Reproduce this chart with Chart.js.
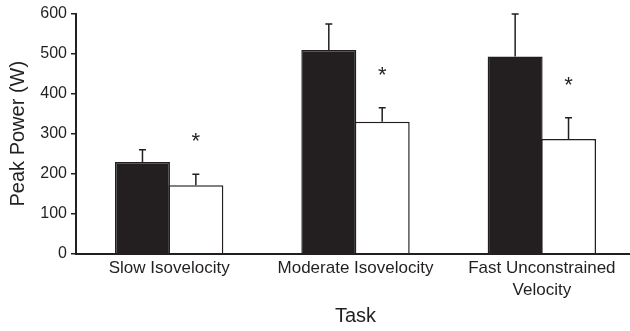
<!DOCTYPE html>
<html>
<head>
<meta charset="utf-8">
<script src="https://cdn.jsdelivr.net/npm/chart.js@4/dist/chart.umd.min.js"></script>
<style>
  html, body { margin: 0; padding: 0; background: #fff; overflow: hidden; }
</style>
</head>
<body>
<canvas id="peakPower" width="635" height="331"></canvas>
<script>
// values
const tasks = ["Slow Isovelocity", "Moderate Isovelocity", ["Fast Unconstrained", "Velocity"]];
const blackMeans = [229, 509, 493];
const blackSD = [31, 65, 106];
const whiteMeans = [171, 330, 287];
const whiteSD = [28, 35, 53];
const significant = [true, true, true];
const yTicks = [0, 100, 200, 300, 400, 500, 600];

const ink = "#231f20";
const font = "'Liberation Sans', Arial, Helvetica, sans-serif";

// error bars (upper only) + asterisks above the white bars
const errorBars = {
  id: "errorBars",
  afterDatasetsDraw(chart) {
    const ctx = chart.ctx;
    const y = chart.scales.y;
    ctx.save();
    ctx.strokeStyle = ink;
    ctx.lineWidth = 1.5;
    chart.data.datasets.forEach((ds, di) => {
      const meta = chart.getDatasetMeta(di);
      meta.data.forEach((bar, i) => {
        const top = y.getPixelForValue(ds.data[i] + ds.sd[i]);
        ctx.beginPath();
        ctx.moveTo(bar.x, bar.y);
        ctx.lineTo(bar.x, top);
        ctx.moveTo(bar.x - 3.5, top);
        ctx.lineTo(bar.x + 3.5, top);
        ctx.stroke();
        if (di === 1 && significant[i]) {
          ctx.fillStyle = ink;
          ctx.font = "22px " + font;
          ctx.textAlign = "center";
          ctx.textBaseline = "middle";
          ctx.fillText("*", bar.x, top - 32);
        }
      });
    });
    ctx.restore();
  },
};

new Chart("peakPower", {
  type: "bar",
  data: {
    labels: tasks,
    datasets: [
      {
        data: blackMeans,
        sd: blackSD,
        backgroundColor: ink,
        borderColor: ink,
        borderWidth: 1.5,
      },
      {
        data: whiteMeans,
        sd: whiteSD,
        backgroundColor: "#ffffff",
        borderColor: ink,
        borderWidth: 1.5,
      },
    ],
  },
  options: {
    responsive: false,
    animation: false,
    datasets: { bar: { barPercentage: 1.03, categoryPercentage: 0.573 } },
    layout: { padding: { top: 10, right: 0, bottom: 0, left: 6 } },
    plugins: { legend: { display: false }, tooltip: { enabled: false } },
    scales: {
      x: {
        grid: { display: false, drawTicks: false },
        border: { display: true, color: ink, width: 2 },
        ticks: {
          color: ink,
          font: { family: font, size: 17, lineHeight: 1.3 },
          padding: 3,
          maxRotation: 0,
          autoSkip: false,
        },
        title: {
          display: true,
          text: "Task",
          color: ink,
          font: { family: font, size: 20 },
          padding: { top: 0, bottom: 3 },
        },
      },
      y: {
        min: 0,
        max: 600,
        afterBuildTicks: (s) => { s.ticks = yTicks.map((v) => ({ value: v })); },
        afterFit: (s) => { s.width = 70; },
        grid: {
          drawOnChartArea: false,
          drawTicks: true,
          tickLength: 5,
          color: ink,
          lineWidth: 1.5,
        },
        border: { display: true, color: ink, width: 2 },
        ticks: {
          color: ink,
          font: { family: font, size: 16 },
          padding: 4,
        },
        title: {
          display: true,
          text: "Peak Power (W)",
          color: ink,
          font: { family: font, size: 20 },
          padding: 0,
        },
      },
    },
  },
  plugins: [errorBars],
});
</script>
</body>
</html>
